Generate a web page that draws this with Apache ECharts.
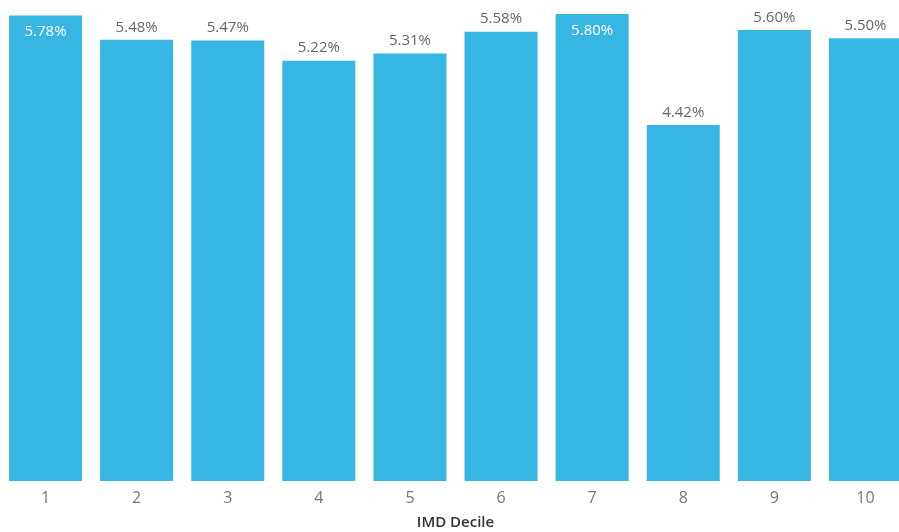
<!DOCTYPE html>
<html>
<head>
<meta charset="utf-8">
<script src="https://cdn.jsdelivr.net/npm/echarts@6/dist/echarts.min.js"></script>
<style>
  html, body { margin: 0; padding: 0; background: #fff; }
  #chart { width: 899px; height: 532px; }
</style>
</head>
<body>
<div id="chart"></div>
<script>
// IMD decile categories and their rates (%)
const deciles = ['1', '2', '3', '4', '5', '6', '7', '8', '9', '10'];
const rates = [5.78, 5.48, 5.47, 5.22, 5.31, 5.58, 5.80, 4.42, 5.60, 5.50];
// Bars whose value label sits inside the bar top (no room above)
const insideLabelDeciles = ['1', '7'];

const barColor = '#38B6E3';
const fontFamily = '"Open Sans", "Noto Sans", sans-serif';

const seriesData = rates.map((v, i) => {
  const item = { value: v };
  if (insideLabelDeciles.includes(deciles[i])) {
    item.label = { position: 'insideTop', distance: 9, color: '#ffffff' };
  }
  return item;
});

const chart = echarts.init(document.getElementById('chart'), null, { renderer: 'canvas' });
chart.setOption({
  animation: false,
  grid: { left: 0, top: 14, width: 911, height: 467, containLabel: false, outerBoundsMode: 'none' },
  xAxis: {
    type: 'category',
    data: deciles,
    name: 'IMD Decile',
    nameLocation: 'middle',
    nameGap: 34,
    nameTextStyle: { color: '#333333', fontSize: 15, fontFamily: fontFamily, fontWeight: 600 },
    axisLine: { show: false },
    axisTick: { show: false },
    axisLabel: { color: '#777777', fontSize: 16, fontFamily: fontFamily, margin: 9 }
  },
  yAxis: {
    type: 'value',
    min: 0,
    max: 5.8,
    show: false,
    splitLine: { show: false }
  },
  series: [{
    type: 'bar',
    data: seriesData,
    barWidth: 73,
    itemStyle: { color: barColor },
    label: {
      show: true,
      position: 'top',
      distance: 5,
      color: '#666666',
      fontSize: 15,
      fontFamily: fontFamily,
      formatter: p => p.value.toFixed(2) + '%'
    }
  }]
});
</script>
</body>
</html>
